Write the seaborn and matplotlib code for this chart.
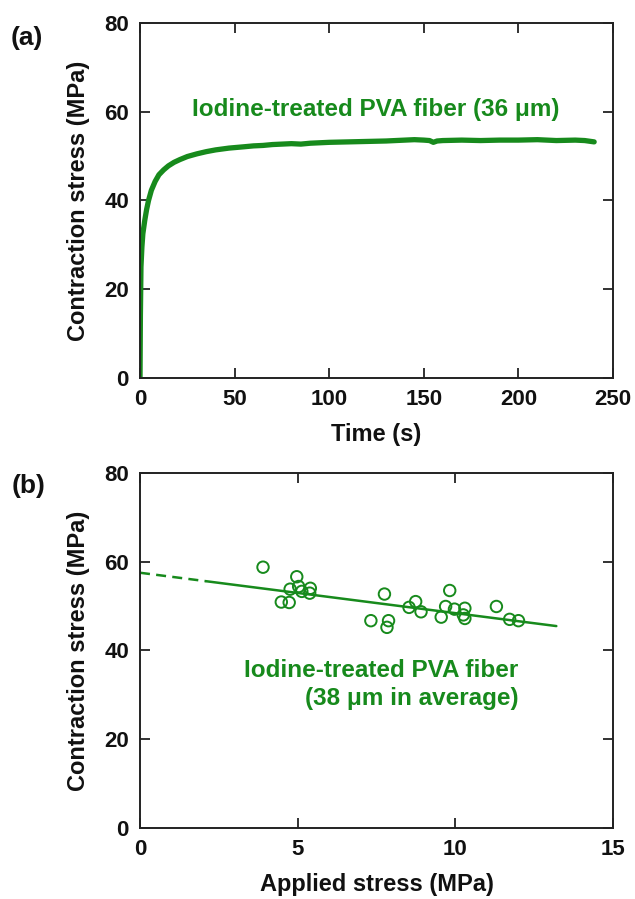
import numpy as np
import pandas as pd
import matplotlib
matplotlib.use("Agg")
import matplotlib.pyplot as plt
import seaborn as sns

# (a) contraction stress over time
time_s = [0, 0.2, 0.5, 1.0, 1.5, 2.5, 3.5, 4.5, 6, 8, 10, 12.5, 15, 18, 21, 25,
          30, 35, 40, 47, 55, 60, 65, 70, 75, 80, 85, 90, 95, 100, 110, 120,
          130, 140, 145, 150, 153, 155, 157, 160, 170, 180, 190, 200, 210,
          220, 230, 235, 240]
stress_a = [0, 14, 25, 29.5, 32.5, 35.5, 38, 40, 42.3, 44.3, 45.8, 46.9, 47.8,
            48.6, 49.2, 49.9, 50.5, 51.0, 51.4, 51.8, 52.1, 52.3, 52.4, 52.6,
            52.7, 52.8, 52.7, 52.9, 53.0, 53.1, 53.2, 53.3, 53.4, 53.6, 53.7,
            53.6, 53.5, 53.1, 53.4, 53.5, 53.6, 53.5, 53.6, 53.6, 53.7, 53.5,
            53.6, 53.5, 53.2]

# (b) contraction stress vs applied stress
applied = [3.90, 4.97, 4.76, 5.03, 5.13, 5.40, 5.38, 4.48, 4.73, 7.75, 7.32,
           7.88, 7.83, 8.53, 8.74, 8.91, 9.82, 9.69, 9.97, 9.55, 10.30, 10.25,
           10.30, 11.30, 11.72, 12.00]
stress_b = [58.75, 56.6, 53.8, 54.4, 53.3, 54.0, 52.9, 50.9, 50.8, 52.7, 46.7,
            46.7, 45.2, 49.7, 51.0, 48.7, 53.5, 49.9, 49.3, 47.5, 49.5, 48.0,
            47.2, 49.9, 47.0, 46.7]

# linear fit as drawn
fit_intercept = 57.5
fit_slope = -0.91
fit_dashed_x = [0, 2.1]
fit_solid_x = [2.1, 13.2]

green = "#178a1c"

sns.set_theme(style="ticks")
plt.rcParams["font.family"] = ["Liberation Sans", "DejaVu Sans"]
plt.rcParams["font.weight"] = "bold"
plt.rcParams["axes.labelweight"] = "bold"

fig = plt.figure(figsize=(6.35, 8.99), dpi=100)
ax1 = fig.add_axes([0.2205, 0.5795, 0.745, 0.395])
ax2 = fig.add_axes([0.2205, 0.079, 0.745, 0.395])

df_a = pd.DataFrame({"t": time_s, "s": stress_a})
sns.lineplot(data=df_a, x="t", y="s", ax=ax1, color=green, lw=3.8)
ax1.text(124.7, 60.4, "Iodine-treated PVA fiber (36 \u03bcm)", color=green,
         fontsize=17.5, ha="center", va="center")
ax1.set_xlim(0, 250)
ax1.set_ylim(0, 80)
ax1.set_xticks([0, 50, 100, 150, 200, 250])
ax1.set_yticks([0, 20, 40, 60, 80])
ax1.set_xlabel("Time (s)")
ax1.set_ylabel("Contraction stress (MPa)")

df_b = pd.DataFrame({"x": applied, "y": stress_b})
sns.scatterplot(data=df_b, x="x", y="y", ax=ax2, marker="o", s=68,
                facecolor="none", edgecolor=green, linewidth=1.4, zorder=3)
fx_d = np.array(fit_dashed_x)
fx_s = np.array(fit_solid_x)
ax2.plot(fx_d, fit_intercept + fit_slope * fx_d, color=green, lw=1.8,
         ls=(0, (4, 2.5)))
ax2.plot(fx_s, fit_intercept + fit_slope * fx_s, color=green, lw=1.8)
ax2.text(12.0, 32.3, "Iodine-treated PVA fiber\n(38 \u03bcm in average)",
         color=green, fontsize=17.5, ha="right", va="center",
         multialignment="right", linespacing=1.3)
ax2.set_xlim(0, 15)
ax2.set_ylim(0, 80)
ax2.set_xticks([0, 5, 10, 15])
ax2.set_yticks([0, 20, 40, 60, 80])
ax2.set_xlabel("Applied stress (MPa)")
ax2.set_ylabel("Contraction stress (MPa)")

for ax in (ax1, ax2):
    ax.tick_params(direction="in", top=True, right=True, length=7, width=1.3,
                   labelsize=16, pad=8, color="#222222", labelcolor="#111111")
    for sp in ax.spines.values():
        sp.set_visible(True)
        sp.set_linewidth(1.4)
        sp.set_color("#222222")
    ax.xaxis.label.set_size(17)
    ax.yaxis.label.set_size(17)
    ax.xaxis.label.set_color("#111111")
    ax.yaxis.label.set_color("#111111")
    ax.xaxis.labelpad = 9
    ax.yaxis.labelpad = 10

fig.text(0.043, 0.958, "(a)", fontsize=19, ha="center", va="center",
         color="#111111")
fig.text(0.045, 0.459, "(b)", fontsize=19, ha="center", va="center",
         color="#111111")

fig.savefig("out.png", dpi=100)
